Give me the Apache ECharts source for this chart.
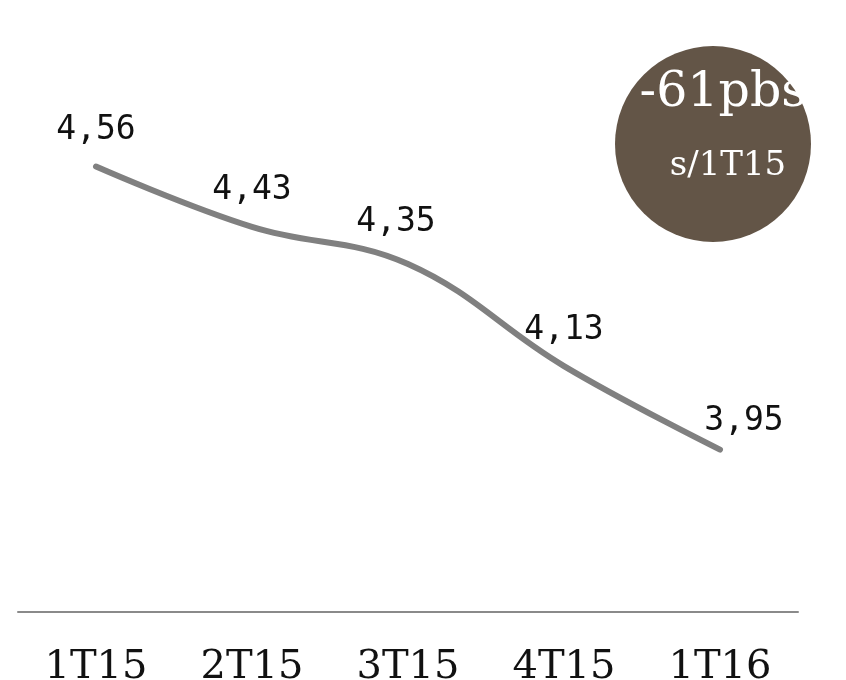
<!DOCTYPE html>
<html>
<head>
<meta charset="utf-8">
<script src="https://cdn.jsdelivr.net/npm/echarts@6/dist/echarts.min.js"></script>
<style>html,body{margin:0;padding:0;background:#fff;}#c{width:846px;height:680px;}</style>
</head>
<body>
<div id="c"></div>
<script>
var categories = ['1T15', '2T15', '3T15', '4T15', '1T16'];
var values = [4.56, 4.43, 4.35, 4.13, 3.95];
var valueLabels = ['4,56', '4,43', '4,35', '4,13', '3,95'];
var labelOffsets = [[0, 0], [0, 0], [-12, -6], [0, 0], [24, 8]];
var badgeMain = '-61pbs';
var badgeSub = 's/1T15';

var chart = echarts.init(document.getElementById('c'));
chart.setOption({
  animation: false,
  grid: { left: 18, right: 48, top: 101.6, bottom: 68, containLabel: false, outerBoundsMode: 'none' },
  xAxis: {
    type: 'category',
    data: categories,
    boundaryGap: true,
    axisLine: { lineStyle: { color: '#8a8a8a', width: 2 } },
    axisTick: { show: false },
    axisLabel: {
      margin: 36,
      fontFamily: 'DejaVu Serif',
      fontSize: 40,
      color: '#111'
    }
  },
  yAxis: { type: 'value', min: 3.6, max: 4.7, show: false, splitLine: { show: false } },
  series: [{
    type: 'line',
    data: values.map(function (v, i) {
      return { value: v, label: { offset: labelOffsets[i] } };
    }),
    smooth: 0.4,
    symbol: 'circle',
    symbolSize: 1,
    itemStyle: { color: 'rgba(0,0,0,0)', borderWidth: 0 },
    lineStyle: { color: '#808080', width: 6, cap: 'round' },
    label: {
      show: true,
      position: 'top',
      distance: 19,
      fontFamily: 'DejaVu Sans Mono',
      fontSize: 33,
      color: '#111',
      formatter: function (p) { return valueLabels[p.dataIndex]; }
    }
  }],
  graphic: [
    { type: 'circle', shape: { cx: 713, cy: 144, r: 98 }, style: { fill: '#635547' } },
    { type: 'text', x: 723, y: 93, style: { text: badgeMain, fill: '#fff', font: '49px "DejaVu Serif"', textAlign: 'center', textVerticalAlign: 'middle' } },
    { type: 'text', x: 728, y: 166, style: { text: badgeSub, fill: '#fff', font: '34px "DejaVu Serif"', textAlign: 'center', textVerticalAlign: 'middle' } }
  ]
});
</script>
</body>
</html>
